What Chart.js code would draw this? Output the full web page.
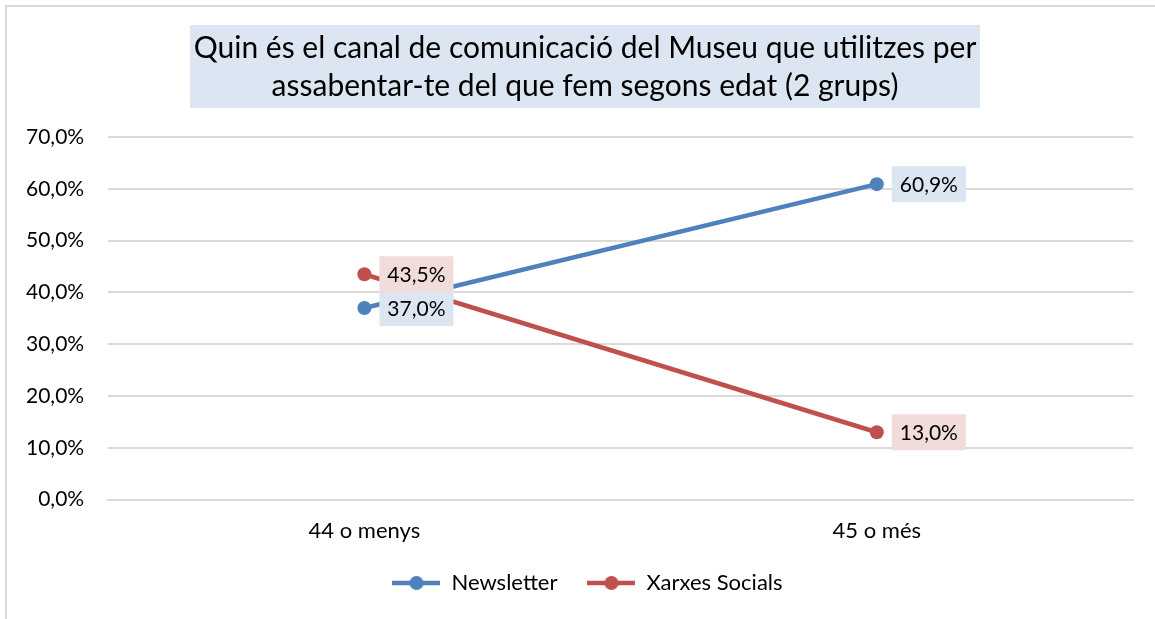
<!DOCTYPE html>
<html>
<head>
<meta charset="utf-8">
<script src="https://cdn.jsdelivr.net/npm/chart.js@4/dist/chart.umd.min.js"></script>
<style>
  html, body { margin: 0; padding: 0; background: #fff; }
  #wrap { width: 1155px; height: 619px; position: relative; }
</style>
</head>
<body>
<div id="wrap"><canvas id="chart" width="1155" height="619"></canvas></div>
<script>
const categories = ["44 o menys", "45 o més"];
const newsletter = [37.0, 60.9];
const xarxes = [43.5, 13.0];
const titleLines = [
  "Quin és el canal de comunicació del Museu que utilitzes per",
  "assabentar-te del que fem segons edat (2 grups)",
];

const FONT = "Lato, 'Noto Sans', sans-serif";
const BLUE = "#4F81BD";
const RED = "#C0504D";

function fmt(v) {
  return v.toFixed(1).replace(".", ",") + "%";
}

// legend marker: short line with a dot in the middle
function legendIcon(color) {
  const c = document.createElement("canvas");
  c.width = 48;
  c.height = 16;
  const g = c.getContext("2d");
  g.strokeStyle = color;
  g.lineWidth = 4.5;
  g.beginPath();
  g.moveTo(0, 8);
  g.lineTo(48, 8);
  g.stroke();
  g.fillStyle = color;
  g.beginPath();
  g.arc(24, 8, 7, 0, Math.PI * 2);
  g.fill();
  return c;
}
const icons = [legendIcon(BLUE), legendIcon(RED)];

const frame = {
  id: "frame",
  beforeDraw(chart) {
    const ctx = chart.ctx;
    ctx.save();
    ctx.fillStyle = "#fff";
    ctx.fillRect(0, 0, chart.width, chart.height);
    ctx.strokeStyle = "#D9D9D9";
    ctx.lineWidth = 2;
    ctx.strokeRect(6, 6, chart.width + 10, chart.height + 10);

    // title box
    ctx.fillStyle = "#DCE6F2";
    ctx.fillRect(190, 25, 790, 83);
    ctx.fillStyle = "#000";
    ctx.font = "30px " + FONT;
    ctx.textAlign = "center";
    ctx.textBaseline = "middle";
    ctx.fillText(titleLines[0], 585, 48);
    ctx.fillText(titleLines[1], 585, 86);
    ctx.restore();
  },
  afterLayout(chart) {
    // legend sits a bit right of centre in the original
    chart.legend.left += 20;
    chart.legend.right += 20;
  },
};

const valueLabels = {
  id: "valueLabels",
  afterDatasetsDraw(chart) {
    const ctx = chart.ctx;
    ctx.save();
    ctx.font = "21px " + FONT;
    ctx.textBaseline = "middle";
    ctx.textAlign = "left";
    chart.data.datasets.forEach((ds, i) => {
      const meta = chart.getDatasetMeta(i);
      meta.data.forEach((pt, j) => {
        const txt = fmt(ds.data[j]);
        const w = ctx.measureText(txt).width + 16;
        const h = 36;
        const x = pt.x + 15;
        ctx.fillStyle = ds.labelBg;
        ctx.fillRect(x, pt.y - h / 2, w, h);
        ctx.fillStyle = "#000";
        ctx.fillText(txt, x + 8, pt.y + 1);
      });
    });
    ctx.restore();
  },
};

new Chart(document.getElementById("chart"), {
  type: "line",
  data: {
    labels: categories,
    datasets: [
      {
        label: "Newsletter",
        data: newsletter,
        borderColor: BLUE,
        backgroundColor: BLUE,
        pointBackgroundColor: BLUE,
        borderWidth: 4.5,
        pointRadius: 7,
        pointBorderWidth: 0,
        pointStyle: "circle",
        labelBg: "#DCE6F2",
      },
      {
        label: "Xarxes Socials",
        data: xarxes,
        borderColor: RED,
        backgroundColor: RED,
        pointBackgroundColor: RED,
        borderWidth: 4.5,
        pointRadius: 7,
        pointBorderWidth: 0,
        pointStyle: "circle",
        labelBg: "#F2DCDB",
      },
    ],
  },
  options: {
    responsive: false,
    animation: false,
    layout: { padding: { top: 137, right: 22, left: 2, bottom: 15 } },
    plugins: {
      legend: {
        position: "bottom",
        labels: {
          usePointStyle: true,
          pointStyleWidth: 48,
          color: "#000",
          font: { family: FONT, size: 22 },
          padding: 30,
          boxHeight: 16,
          generateLabels(chart) {
            const items = Chart.defaults.plugins.legend.labels.generateLabels(chart);
            items.forEach((it, i) => { it.pointStyle = icons[i]; });
            return items;
          },
        },
      },
      tooltip: { enabled: false },
      title: { display: false },
    },
    scales: {
      x: {
        offset: true,
        grid: { display: false, drawTicks: false },
        border: { color: "#D9D9D9", width: 2 },
        ticks: {
          color: "#000",
          font: { family: FONT, size: 22 },
          padding: 18,
        },
        afterFit(scale) {
          scale.height -= 20;
        },
      },
      y: {
        min: 0,
        max: 70,
        grid: { color: "#D9D9D9", lineWidth: 2, drawTicks: false },
        border: { display: false },
        ticks: {
          stepSize: 10,
          color: "#000",
          font: { family: FONT, size: 21 },
          padding: 24,
          callback: (v) => fmt(v),
        },
      },
    },
  },
  plugins: [frame, valueLabels],
});
</script>
</body>
</html>
